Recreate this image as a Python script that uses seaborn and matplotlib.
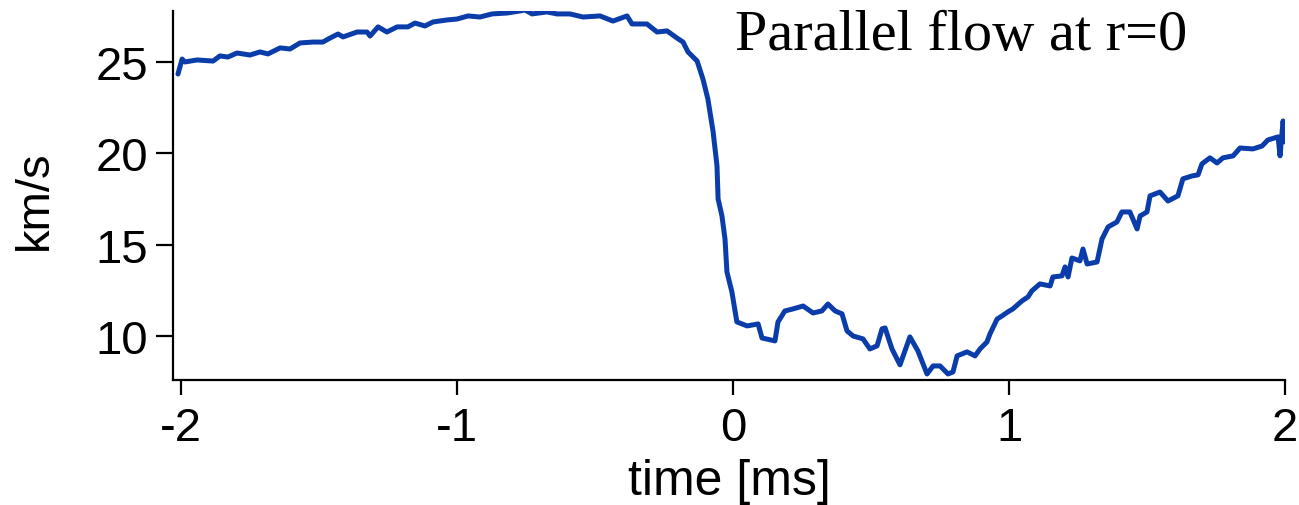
import numpy as np
import pandas as pd
import matplotlib
matplotlib.use("Agg")
import matplotlib.pyplot as plt
import seaborn as sns

# ---- data ----
time_ms = [
    -2.011, -1.996, -1.986, -1.942, -1.884, -1.859, -1.830, -1.797, -1.750, -1.714,
    -1.685, -1.641, -1.605, -1.569, -1.522, -1.486, -1.460, -1.431, -1.413, -1.362,
    -1.326, -1.315, -1.286, -1.254, -1.217, -1.178, -1.152, -1.116, -1.087, -1.036,
    -1.000, -0.960, -0.917, -0.873, -0.819, -0.772, -0.754, -0.728, -0.674, -0.638,
    -0.591, -0.543, -0.482, -0.435, -0.384, -0.366, -0.312, -0.275, -0.239, -0.203,
    -0.181, -0.163, -0.130, -0.109, -0.091, -0.072, -0.058, -0.054, -0.040, -0.029,
    -0.022, -0.004, 0.014, 0.051, 0.091, 0.105, 0.152, 0.163, 0.188, 0.217,
    0.254, 0.290, 0.322, 0.344, 0.370, 0.395, 0.413, 0.435, 0.471, 0.496,
    0.522, 0.540, 0.551, 0.576, 0.605, 0.641, 0.670, 0.703, 0.725, 0.750,
    0.779, 0.797, 0.812, 0.848, 0.877, 0.895, 0.920, 0.931, 0.957, 0.975,
    0.996, 1.014, 1.047, 1.069, 1.083, 1.112, 1.149, 1.159, 1.192, 1.203,
    1.214, 1.228, 1.257, 1.268, 1.283, 1.319, 1.337, 1.359, 1.391, 1.409,
    1.438, 1.464, 1.475, 1.500, 1.511, 1.547, 1.576, 1.612, 1.630, 1.663,
    1.685, 1.699, 1.728, 1.754, 1.775, 1.812, 1.837, 1.884, 1.917, 1.938,
    1.975, 1.982, 1.993, 2.000,
]
flow_kms = [
    24.34, 25.16, 25.00, 25.11, 25.05, 25.33, 25.27, 25.49, 25.38, 25.55,
    25.44, 25.77, 25.71, 26.04, 26.09, 26.09, 26.31, 26.53, 26.37, 26.64,
    26.64, 26.42, 26.92, 26.64, 26.92, 26.92, 27.13, 26.97, 27.19, 27.30,
    27.35, 27.52, 27.46, 27.63, 27.68, 27.79, 27.85, 27.63, 27.74, 27.63,
    27.63, 27.46, 27.52, 27.24, 27.52, 27.08, 27.08, 26.64, 26.70, 26.31,
    26.09, 25.55, 25.05, 24.07, 22.97, 21.17, 19.31, 17.50, 16.57, 15.31,
    13.51, 12.41, 10.77, 10.55, 10.66, 9.89, 9.73, 10.77, 11.37, 11.48,
    11.64, 11.26, 11.37, 11.75, 11.37, 11.21, 10.28, 10.00, 9.84, 9.29,
    9.46, 10.39, 10.44, 9.29, 8.42, 9.95, 9.18, 7.92, 8.36, 8.36,
    7.92, 8.03, 8.91, 9.13, 8.91, 9.29, 9.67, 10.11, 10.93, 11.10,
    11.32, 11.48, 11.92, 12.14, 12.47, 12.85, 12.74, 13.23, 13.29, 13.78,
    13.23, 14.27, 14.11, 14.76, 13.94, 14.05, 15.31, 15.97, 16.24, 16.79,
    16.79, 15.86, 16.57, 16.79, 17.67, 17.88, 17.39, 17.67, 18.60, 18.76,
    18.82, 19.42, 19.75, 19.47, 19.75, 19.86, 20.29, 20.24, 20.40, 20.73,
    20.90, 19.86, 21.77, 20.62,
]
x_ticks = [-2, -1, 0, 1, 2]
y_ticks = [10, 15, 20, 25]
x_label = "time [ms]"
y_label = "km/s"
annotation = "Parallel flow at r=0"

df = pd.DataFrame({"time": time_ms, "flow": flow_kms})

sns.set_style("ticks")
plt.rcParams["font.family"] = ["Liberation Sans", "DejaVu Sans"]
plt.rcParams["text.color"] = "black"
plt.rcParams["axes.labelcolor"] = "black"

fig = plt.figure(figsize=(12.99, 5.06), dpi=100)
ax = fig.add_axes([173 / 1299, 1 - 381 / 506, (1285 - 173) / 1299, (381 - 12) / 506])

sns.lineplot(data=df, x="time", y="flow", ax=ax, color="#0a3daa",
             linewidth=3.6, sort=False, estimator=None)

ax.set_xlim(-2.029, 2.0)
ax.set_ylim(7.59, 27.79)
ax.set_xticks(x_ticks)
ax.set_xticklabels([str(t) for t in x_ticks])
ax.set_yticks(y_ticks)

for s in ["top", "right"]:
    ax.spines[s].set_visible(False)
for s in ["left", "bottom"]:
    ax.spines[s].set_linewidth(1.6)
    ax.spines[s].set_color("black")

ax.tick_params(axis="x", direction="out", length=11, width=1.6, pad=8,
               labelsize=34, colors="black")
ax.tick_params(axis="y", direction="out", length=12, width=1.6, pad=6,
               labelsize=34, colors="black")

ax.set_xlabel(x_label, fontsize=36, color="black")
ax.set_ylabel(y_label, fontsize=34, color="black")
ax.xaxis.set_label_coords(0.5, -0.212)
ax.yaxis.set_label_coords(-0.104, 0.49)

ax.text(0.5054, 0.897, annotation, transform=ax.transAxes, ha="left",
        va="baseline", fontsize=42, color="black",
        family=["Liberation Serif", "DejaVu Serif"])

fig.savefig("out.png", dpi=100)
